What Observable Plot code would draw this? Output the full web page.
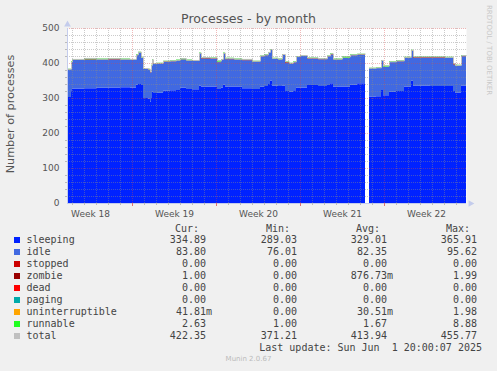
<!DOCTYPE html>
<html><head><meta charset="utf-8">
<script src="https://cdn.jsdelivr.net/npm/d3@7"></script>
<script src="https://cdn.jsdelivr.net/npm/@observablehq/plot@0.6"></script>
<style>
body{margin:0;background:#f0f0f0;}
#wrap{position:relative;width:497px;height:371px;background:#f0f0f0;overflow:hidden;font-family:"DejaVu Sans",sans-serif;}
#plot{position:absolute;left:0;top:0;}
.abs{position:absolute;white-space:pre;line-height:1;}
.mono{font-family:"DejaVu Sans Mono",monospace;font-size:10px;color:#444;}
</style></head><body>
<div id="wrap">
  <div id="plot"></div>
  <div class="abs" style="left:0;width:497px;top:13px;text-align:center;font-size:12.6px;color:#555;">Processes - by month</div>
  <div class="abs" style="left:11px;top:114px;transform:translate(-50%,-50%) rotate(-90deg);font-size:11.2px;color:#555;">Number of processes</div>
  <div class="abs" style="left:485px;top:5px;writing-mode:vertical-rl;font-size:7px;color:#c8c8c8;">RRDTOOL / TOBI OETIKER</div>
  <div id="legend"></div>
</div>
<script>
// ---- data ----
const times = ["04-29T14","04-29T22","04-30T00","05-01T00","05-02T00","05-03T00","05-04T00","05-04T20",
 "05-05T08","05-05T12","05-05T18","05-05T22","05-06T08","05-06T12","05-06T14","05-06T16","05-06T18",
 "05-07T02","05-07T14","05-08T04","05-08T16","05-09T00","05-09T12","05-10T00","05-10T14","05-10T18",
 "05-11T12","05-12T02","05-12T10","05-12T14","05-12T18","05-13T12","05-14T04","05-15T00","05-15T16",
 "05-16T00","05-16T08","05-16T12","05-16T16","05-17T04","05-17T12","05-17T18","05-18T02","05-18T10",
 "05-18T16","05-19T00","05-19T14","05-20T12","05-21T06","05-21T12","05-21T18","05-22T12","05-23T04",
 "05-23T18","05-24T10","05-24T12","05-24T18","05-25T08","05-25T18","05-25T22","05-26T10","05-27T00",
 "05-27T16","05-28T06","05-28T10","05-29T20","05-31T02","05-31T18","05-31T22","06-01T10","06-01T20"];
const sleeping = [303,322,327,328,329,330,331,330,
 338,340,337,300,298,290,300,318,314,
 315,321,322,323,329,326,325,335,333,
 333,326,330,338,333,333,328,326,332,
 334,340,350,335,334,335,320,318,322,
 329,330,337,334,337,342,333,333,338,
 342,342,null,304,305,323,308,318,320,
 333,349,335,334,334,320,316,335,335];
const idle = [78,80,82,81,81,80,79,79,
 84,89,78,83,83,83,92,89,83,
 83,82,83,84,81,81,81,92,80,
 80,76,79,89,78,77,80,78,87,
 88,89,87,77,76,88,81,80,80,
 88,90,76,77,82,82,77,81,84,
 81,81,null,81,81,84,81,85,85,
 81,85,80,81,81,76,76,84,84];
const zombie = [1,1,1,2,1,2,1,1,
 1,1,1,1,1,1,1,1,1,
 1,2,1,1,1,1,1,1,2,
 1,1,1,1,2,1,2,1,1,
 1,1,1,1,1,1,2,1,1,
 1,1,1,1,1,2,1,1,1,
 2,2,null,0,0,0,0,0,1,
 2,2,2,2,1,2,1,1,1];
const runnable = [1.7,1.7,1.7,3.5,1.7,1.7,1.7,1.7,
 1.7,2.5,1.7,1.7,1.7,1.7,1.7,3,1.7,
 1.7,1.7,1.7,1.7,3,1.7,1.7,2,1.7,
 1.7,4,1.7,1.7,1.7,1.7,1.7,1.7,1.7,
 1.7,1.7,1.7,1.7,1.7,1.7,1.7,1.7,1.7,
 1.7,1.7,1.7,1.7,1.7,1.7,1.7,4,1.7,
 1.7,1.7,null,1.7,1.7,1.7,4,1.7,1.7,
 1.7,1.7,1.7,1.7,1.7,1.7,1.7,2.6,2.6];

const names  = ["sleeping","idle","stopped","zombie","dead","paging","uninterruptible","runnable","total"];
const colors = ["#0022ff","#4169e1","#cc0000","#990000","#ff0000","#00aaaa","#ffa500","#22ff22","#c0c0c0"];
const curVals = ["334.89 ","83.80 ","0.00 ","1.00 ","0.00 ","0.00 ","41.81m","2.63 ","422.35 "];
const minVals = ["289.03 ","76.01 ","0.00 ","0.00 ","0.00 ","0.00 ","0.00 ","1.00 ","371.21 "];
const avgVals = ["329.01 ","82.35 ","0.00 ","876.73m","0.00 ","0.00 ","30.51m","1.67 ","413.94 "];
const maxVals = ["365.91 ","95.62 ","0.00 ","1.99 ","0.00 ","0.00 ","1.98 ","8.88 ","455.77 "];
const yTicks = [0,100,200,300,400,500];
const startT = new Date("2025-04-29T14:00Z"), endT = new Date("2025-06-01T20:00Z");

// ---- build stacked rows ----
const seriesData = {sleeping, idle, zombie, runnable};
const stackOrder = ["sleeping","idle","zombie","runnable"];
const rows = [], totals = [];
times.forEach((s,i) => {
  const t = new Date("2025-" + s + ":00Z");
  let base = 0; const isNull = sleeping[i] == null;
  stackOrder.forEach(k => {
    const v = seriesData[k][i];
    rows.push({t, series:k, y1: isNull ? NaN : base, y2: isNull ? NaN : base + v});
    if (!isNull) base += v;
  });
  totals.push({t, total: isNull ? NaN : base});
});

const days = d3.utcDay.range(d3.utcDay.ceil(startT), endT);
const mondays = days.filter(d => d.getUTCDay() === 1);
const minorDays = days.filter(d => d.getUTCDay() !== 1);
const weekMids = d3.utcMonday.range(d3.utcMonday.floor(startT), endT).map(m => new Date(+m + 3.5*864e5));
const minorY = d3.range(20, 500, 20).filter(v => v % 100);
const axisColor = "#c4ccec";
const minorGrid = "rgba(140,140,140,0.45)";
const majorGrid = "rgba(215,70,70,0.38)";

const chart = Plot.plot({
  width: 497, height: 222,
  marginLeft: 67, marginRight: 31, marginTop: 28, marginBottom: 19,
  style: {background: "transparent", fontFamily: "DejaVu Sans", overflow: "visible"},
  x: {type: "utc", domain: [startT, endT]},
  y: {domain: [0, 500]},
  color: {domain: names, range: colors},
  marks: [
    Plot.frame({fill: "white", stroke: null}),
    Plot.areaY(rows, {x: "t", y1: "y1", y2: "y2", fill: "series", z: "series", curve: "step-after"}),
    Plot.lineY(totals, {x: "t", y: "total", stroke: "#c0c0c0", strokeWidth: 1, curve: "step-after"}),
    Plot.ruleY(minorY, {stroke: minorGrid, strokeDasharray: "1,1"}),
    Plot.ruleX(minorDays, {stroke: minorGrid, strokeDasharray: "1,1"}),
    Plot.ruleY(yTicks.slice(1), {stroke: majorGrid, strokeDasharray: "1,1"}),
    Plot.ruleX(mondays, {stroke: majorGrid, strokeDasharray: "1,1"}),
    Plot.ruleX([startT], {stroke: axisColor, y1: 0, y2: 500}),
    Plot.ruleY([0], {stroke: axisColor}),
    Plot.dot([0], {frameAnchor: "top-left", symbol: "triangle", r: 2.5, fill: axisColor, stroke: null, dy: -4}),
    Plot.dot([0], {frameAnchor: "bottom-right", symbol: "triangle", rotate: 90, r: 2.5, fill: axisColor, stroke: null, dx: 4}),
    Plot.axisY(yTicks, {tickSize: 0, tickPadding: 8, fontSize: 9, fill: "#555", label: null}),
    Plot.axisY(minorY, {tickSize: 2, stroke: "#bbb", tickFormat: () => "", label: null}),
    Plot.axisX(weekMids, {tickSize: 0, tickPadding: 7, fontSize: 9, fill: "#555", label: null,
      tickFormat: d => "Week " + (+d3.utcFormat("%V")(d))}),
    Plot.axisX(minorDays, {tickSize: 2, stroke: "#bbb", tickFormat: () => "", label: null}),
    Plot.axisX(mondays, {tickSize: 3, stroke: "#e07070", tickFormat: () => "", label: null})
  ]
});
document.getElementById("plot").append(chart);

// ---- legend ----
const leg = document.getElementById("legend");
function txt(str, css) {
  const d = document.createElement("div");
  d.className = "abs mono"; d.textContent = str; d.style.cssText += css; leg.append(d);
}
txt("Cur:", "right:298px;top:223.5px;");
txt("Min:", "right:207px;top:223.5px;");
txt("Avg:", "right:117px;top:223.5px;");
txt("Max:", "right:27px;top:223.5px;");
names.forEach((n, i) => {
  const top = 234.5 + 12 * i;
  const sq = document.createElement("div");
  sq.style.cssText = `position:absolute;left:14px;top:${237 + 12*i}px;width:6px;height:6px;background:${colors[i]};`;
  leg.append(sq);
  txt(n, `left:26.5px;top:${top}px;`);
  txt(curVals[i], `right:285px;top:${top}px;`);
  txt(minVals[i], `right:194px;top:${top}px;`);
  txt(avgVals[i], `right:104px;top:${top}px;`);
  txt(maxVals[i], `right:14px;top:${top}px;`);
});
txt("Last update: Sun Jun  1 20:00:07 2025", "right:15px;top:342.5px;");
const foot = document.createElement("div");
foot.className = "abs"; foot.textContent = "Munin 2.0.67";
foot.style.cssText += "left:0;width:497px;text-align:center;top:356px;font-size:7px;color:#bbb;";
leg.append(foot);
</script>
</body></html>
